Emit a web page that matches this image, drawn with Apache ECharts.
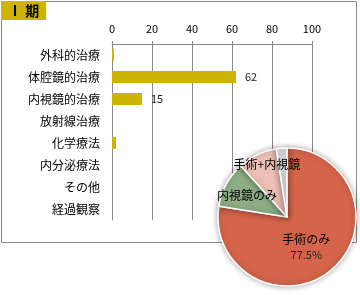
<!DOCTYPE html>
<html><head><meta charset="utf-8">
<script src="https://cdn.jsdelivr.net/npm/echarts@6/dist/echarts.min.js"></script>
<style>html,body{margin:0;padding:0;background:#fff;}#c{width:360px;height:295px;}</style>
</head><body><div id="c"></div>
<script>
var categories = ['外科的治療','体腔鏡的治療','内視鏡的治療','放射線治療','化学療法','内分泌療法','その他','経過観察'];
var barValues = [1, 62, 15, 0, 2, 0, 0, 0];
var xTicks = [0, 20, 40, 60, 80, 100];
var pieNames = ['手術のみ','内視鏡のみ','手術+内視鏡','その他'];
var pieValues = [77.5, 10.8, 9.2, 2.5];
var pieColors = ['#D4654A','#8FAE88','#EDC0B5','#D9D9D9'];
var titleText = 'Ⅰ 期';

var FONT = '"Noto Sans CJK JP", "Noto Sans", sans-serif';
var chart = echarts.init(document.getElementById('c'), null, {renderer:'canvas'});
var labelOffsets = [[-5,1],[-7,-4],[-4,-19],[0,0]];
var pieData = pieNames.map(function(n,i){
  var d = {name:n, value:pieValues[i], itemStyle:{color:pieColors[i]}};
  if (i === 0) {
    d.label = {formatter:'{n|{b}}\n{p|{d}%}', offset: labelOffsets[i]};
  } else if (i === 3) {
    d.label = {show:false};
  } else {
    d.label = {formatter:'{b}', offset: labelOffsets[i]};
  }
  return d;
});
chart.setOption({
  animation:false,
  textStyle:{fontFamily:FONT},
  title:{text:titleText, left:1, top:1, padding:[2,7,2,7], backgroundColor:'#CCB400',
    textStyle:{fontSize:14, fontWeight:'bold', color:'#000', fontFamily:FONT, lineHeight:15}},
  graphic:[{type:'rect', z:-1, shape:{x:1.5,y:1.5,width:355,height:241}, style:{fill:'none', stroke:'#888', lineWidth:1}}],
  grid:{left:112, top:44, width:200, height:176, containLabel:false},
  xAxis:{type:'value', position:'top', min:0, max:100, interval:20,
    axisLine:{show:true, lineStyle:{color:'#888'}},
    axisTick:{show:true, length:3, lineStyle:{color:'#888'}},
    splitLine:{show:true, lineStyle:{color:'#888', width:1}},
    axisLabel:{fontSize:11, color:'#000', margin:10, fontFamily:FONT,
      formatter:function(v){return xTicks.indexOf(v)>=0 ? String(v) : '';}}},
  yAxis:{type:'category', data:categories, inverse:true,
    axisLine:{show:true, lineStyle:{color:'#888'}}, axisTick:{show:false},
    axisLabel:{fontSize:12, color:'#000', margin:12, fontFamily:FONT}},
  series:[{
    type:'bar', data:barValues, barWidth:12, itemStyle:{color:'#CCB400'},
    label:{show:true, position:'right', distance:9, fontSize:11, color:'#222', fontFamily:FONT,
      formatter:function(p){return p.value>=5 ? String(p.value) : '';}}
  },{
    type:'pie', center:[287,217], radius:69, startAngle:90, clockwise:true, z:5,
    data:pieData,
    itemStyle:{borderColor:'#fff', borderWidth:1.5, shadowBlur:6, shadowColor:'rgba(0,0,0,0.35)'},
    label:{show:true, position:'inside', color:'#000', fontSize:12, fontFamily:FONT,
      rich:{n:{fontSize:12, color:'#000', lineHeight:17, fontFamily:FONT}, p:{fontSize:11, color:'#222', lineHeight:15, fontFamily:FONT}}},
    labelLine:{show:false}, emphasis:{disabled:true}
  }]
});
</script></body></html>
